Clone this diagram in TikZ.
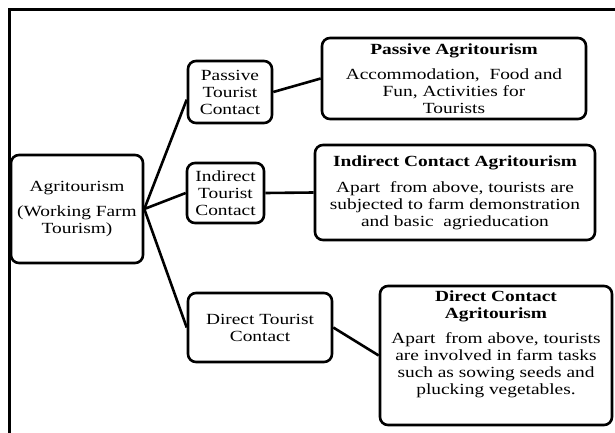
\documentclass[tikz,border=0pt]{standalone}
\usepackage{fontspec}
\setmainfont{Liberation Serif}[FakeStretch=1.25]
\begin{document}
\begin{tikzpicture}[x=1pt,y=-1pt,
  box/.style={draw, line width=2.6pt, rounded corners=8pt, inner sep=0pt, align=center,
    font=\fontsize{15.5}{17}\selectfont},
  link/.style={line width=2.6pt}]
\useasboundingbox (0,0) rectangle (615,433);
\draw[line width=2.6pt] (615,9.5) -- (9.5,9.5) -- (9.5,433);

\node[box, minimum width=132pt, minimum height=108pt] (agri) at (77,209)
  {Agritourism\\[8pt](Working Farm\\Tourism)};
\node[box, minimum width=84pt, minimum height=62pt] (ptc) at (230,92)
  {Passive\\Tourist\\Contact};
\node[box, minimum width=77pt, minimum height=60pt] (itc) at (225.5,193)
  {Indirect\\Tourist\\Contact};
\node[box, minimum width=144pt, minimum height=69pt] (dtc) at (260,327.5)
  {Direct Tourist\\Contact};
\node[box, minimum width=264pt, minimum height=81pt] (pa) at (454,78.5)
  {\textbf{Passive Agritourism}\\[8pt]Accommodation,\ \ Food and\\Fun, Activities for\\Tourists};
\node[box, minimum width=280pt, minimum height=95pt] (ia) at (455,192.5)
  {\textbf{Indirect Contact Agritourism}\\[9pt]Apart\ \ from above, tourists are\\subjected to farm demonstration\\and basic\ \ agrieducation};
\node[box, minimum width=232pt, minimum height=139pt] (da) at (496,355.5)
  {\textbf{Direct Contact}\\\textbf{Agritourism}\\[8pt]Apart\ \ from above, tourists\\are involved in farm tasks\\such as sowing seeds and\\plucking vegetables.\\[9pt]\mbox{}};

\draw[link] (agri.east) -- (ptc.190);
\draw[link] (agri.east) -- (itc.west);
\draw[link] (agri.east) -- (dtc.west);
\draw[link] (ptc.east) -- (pa.west);
\draw[link] (itc.east) -- (ia.west);
\draw[link] (dtc.east) -- (da.west);
\end{tikzpicture}
\end{document}
